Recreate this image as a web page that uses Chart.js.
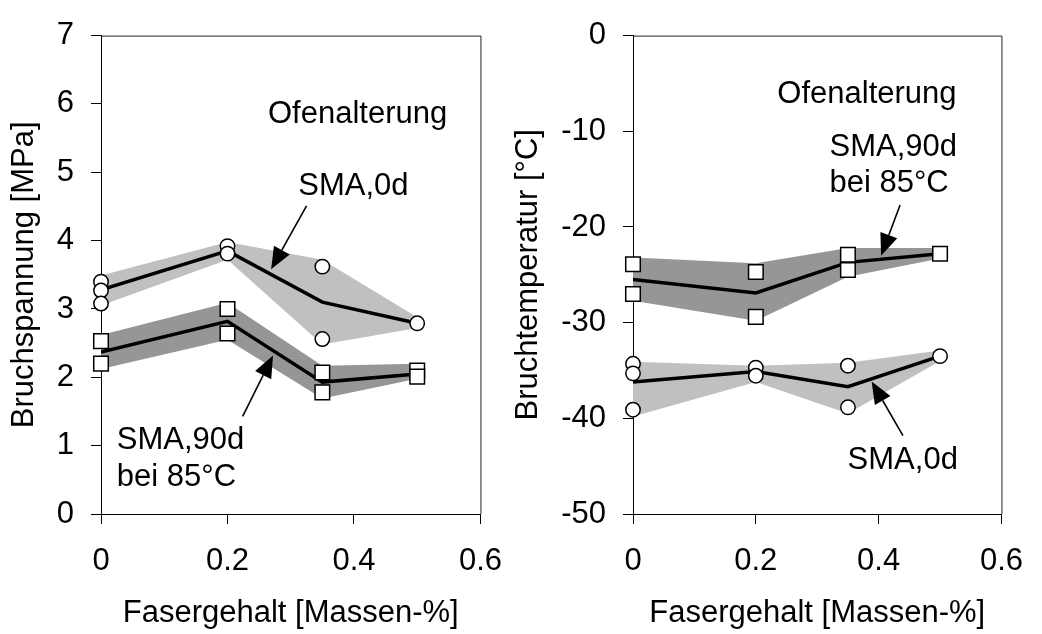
<!DOCTYPE html>
<html>
<head>
<meta charset="utf-8">
<script src="https://cdn.jsdelivr.net/npm/chart.js@4.4.1/dist/chart.umd.min.js"></script>
<style>
html,body{margin:0;padding:0;background:#fff;}
#wrap{position:relative;width:1042px;height:634px;overflow:hidden;}
#c1{position:absolute;left:0;top:0;}
#c2{position:absolute;left:500px;top:0;}
</style>
</head>
<body>
<div id="wrap">
  <canvas id="c1" width="521" height="634"></canvas>
  <canvas id="c2" width="542" height="634"></canvas>
</div>
<script>
const xMean = [0, 0.2, 0.35, 0.5];
const xTicks = [0, 0.2, 0.4, 0.6];

// Bruchspannung [MPa]
const spTicks = [0, 1, 2, 3, 4, 5, 6, 7];
const sp0dX = [0, 0, 0, 0.2, 0.2, 0.35, 0.35, 0.5];
const sp0dY = [3.40, 3.27, 3.08, 3.92, 3.81, 3.62, 2.56, 2.79];
const sp0dMean = [3.28, 3.85, 3.10, 2.79];
const sp0dHigh = [3.49, 3.98, 3.72, 2.88];
const sp0dLow = [3.05, 3.72, 2.48, 2.72];
const sp90dX = [0, 0, 0.2, 0.2, 0.35, 0.35, 0.5, 0.5];
const sp90dY = [2.53, 2.20, 3.00, 2.64, 2.07, 1.78, 2.10, 2.01];
const sp90dMean = [2.37, 2.82, 1.93, 2.05];
const sp90dHigh = [2.62, 3.09, 2.17, 2.20];
const sp90dLow = [2.12, 2.55, 1.69, 1.98];

// Bruchtemperatur [°C]
const tTicks = [-50, -40, -30, -20, -10, 0];
const t0dX = [0, 0, 0, 0.2, 0.2, 0.35, 0.35, 0.5];
const t0dY = [-34.3, -35.3, -39.1, -34.7, -35.55, -34.5, -38.85, -33.5];
const t0dMean = [-36.2, -35.1, -36.7, -33.5];
const t0dHigh = [-34.1, -34.5, -34.2, -32.9];
const t0dLow = [-39.8, -36.2, -39.5, -34.0];
const t90dX = [0, 0, 0.2, 0.2, 0.35, 0.35, 0.5];
const t90dY = [-23.9, -27.0, -24.7, -29.4, -22.9, -24.5, -22.8];
const t90dMean = [-25.5, -26.9, -23.7, -22.8];
const t90dHigh = [-23.2, -23.8, -22.2, -22.2];
const t90dLow = [-27.7, -29.8, -25.2, -23.3];

const FONT = '"Liberation Sans", Arial, sans-serif';
const LIGHT = '#c0c0c0';
const DARK = '#969696';

Chart.defaults.font.family = FONT;
Chart.defaults.font.size = 31;
Chart.defaults.color = '#000';

function pts(xs, ys){ return xs.map((x, i) => ({x: x, y: ys[i]})); }

// Rahmen, Beschriftungen und Pfeile
const decor = {
  id: 'decor',
  beforeDatasetsDraw(chart){
    const {ctx, chartArea: a} = chart;
    ctx.save();
    ctx.strokeStyle = '#222';
    ctx.lineWidth = 1;
    ctx.beginPath();
    ctx.moveTo(a.left, a.top + 0.5);
    ctx.lineTo(a.right + 0.5, a.top + 0.5);
    ctx.lineTo(a.right + 0.5, a.bottom);
    ctx.stroke();
    ctx.restore();
  },
  afterDatasetsDraw(chart, args, opts){
    const {ctx} = chart;
    const sx = chart.scales.x, sy = chart.scales.y;
    ctx.save();
    ctx.fillStyle = '#000';
    ctx.strokeStyle = '#000';
    ctx.font = '31px ' + FONT;
    ctx.textAlign = 'left';
    ctx.textBaseline = 'middle';
    for(const l of opts.labels){
      ctx.fillText(l.text, sx.getPixelForValue(l.x), sy.getPixelForValue(l.y));
    }
    for(const ar of opts.arrows){
      const x1 = sx.getPixelForValue(ar.from[0]), y1 = sy.getPixelForValue(ar.from[1]);
      const x2 = sx.getPixelForValue(ar.to[0]), y2 = sy.getPixelForValue(ar.to[1]);
      const ang = Math.atan2(y2 - y1, x2 - x1);
      const len = 22, half = 9;
      const bx = x2 - len * Math.cos(ang), by = y2 - len * Math.sin(ang);
      ctx.lineWidth = 1.6;
      ctx.beginPath(); ctx.moveTo(x1, y1); ctx.lineTo(bx, by); ctx.stroke();
      ctx.beginPath();
      ctx.moveTo(x2, y2);
      ctx.lineTo(bx + half * Math.sin(ang), by - half * Math.cos(ang));
      ctx.lineTo(bx - half * Math.sin(ang), by + half * Math.cos(ang));
      ctx.closePath(); ctx.fill();
    }
    ctx.restore();
  }
};

function markers(data, style, r){
  return {data: data, showLine: false, pointStyle: style, pointRadius: r,
    pointBackgroundColor: '#fff', pointBorderColor: '#000', pointBorderWidth: 1.5, clip: false};
}
function meanLine(ys){
  return {data: pts(xMean, ys), borderColor: '#000', borderWidth: 3.5, pointRadius: 0, tension: 0, fill: false};
}
function bandHigh(ys){
  return {data: pts(xMean, ys), borderWidth: 0, pointRadius: 0, tension: 0, fill: false};
}
function bandLow(ys, color){
  return {data: pts(xMean, ys), borderWidth: 0, pointRadius: 0, tension: 0, fill: '-1', backgroundColor: color};
}

function makeChart(id, o){
  return new Chart(document.getElementById(id), {
    type: 'line',
    data: {datasets: [
      markers(o.circles, 'circle', 7.2),
      markers(o.squares, 'rect', 10.3),
      meanLine(o.cMean),
      meanLine(o.sMean),
      bandHigh(o.cHigh), bandLow(o.cLow, LIGHT),
      bandHigh(o.sHigh), bandLow(o.sLow, DARK)
    ]},
    plugins: [decor],
    options: {
      responsive: false,
      animation: false,
      layout: {padding: {top: o.padTop, right: o.padRight, bottom: 0, left: 0}},
      plugins: {
        legend: {display: false},
        tooltip: {enabled: false},
        decor: {labels: o.labels, arrows: o.arrows}
      },
      scales: {
        x: {
          type: 'linear', min: 0, max: 0.6,
          afterBuildTicks: s => { s.ticks = xTicks.map(v => ({value: v})); },
          afterFit: s => { s.height = 120; },
          ticks: {padding: 19, callback: v => String(v)},
          grid: {drawOnChartArea: false, drawTicks: true, tickLength: 10, color: '#000'},
          border: {color: '#000', width: 1},
          title: {display: true, text: 'Fasergehalt [Massen-%]', padding: {top: 0, bottom: 2}}
        },
        y: {
          type: 'linear', min: o.yTicks[0], max: o.yTicks[o.yTicks.length - 1],
          afterBuildTicks: s => { s.ticks = o.yTicks.map(v => ({value: v})); },
          afterFit: s => { s.width = o.yWidth; },
          ticks: {padding: 17, callback: v => String(v)},
          grid: {drawOnChartArea: false, drawTicks: true, tickLength: 10, color: '#000'},
          border: {color: '#000', width: 1},
          title: {display: true, text: o.yTitle, padding: {top: o.yTitlePad, bottom: 0}}
        }
      }
    }
  });
}

makeChart('c1', {
  circles: pts(sp0dX, sp0dY), squares: pts(sp90dX, sp90dY),
  cMean: sp0dMean, cHigh: sp0dHigh, cLow: sp0dLow,
  sMean: sp90dMean, sHigh: sp90dHigh, sLow: sp90dLow,
  yTicks: spTicks, yTitle: 'Bruchspannung [MPa]', yWidth: 101, yTitlePad: 6,
  padTop: 24, padRight: 40,
  labels: [
    {text: 'Ofenalterung', x: 0.264, y: 5.84},
    {text: 'SMA,0d', x: 0.312, y: 4.80},
    {text: 'SMA,90d', x: 0.025, y: 1.07},
    {text: 'bei 85°C', x: 0.025, y: 0.54}
  ],
  arrows: [
    {from: [0.325, 4.51], to: [0.269, 3.58]},
    {from: [0.224, 1.43], to: [0.272, 2.32]}
  ]
});

makeChart('c2', {
  circles: pts(t0dX, t0dY), squares: pts(t90dX, t90dY),
  cMean: t0dMean, cHigh: t0dHigh, cLow: t0dLow,
  sMean: t90dMean, sHigh: t90dHigh, sLow: t90dLow,
  yTicks: tTicks, yTitle: 'Bruchtemperatur [°C]', yWidth: 133, yTitlePad: 10,
  padTop: 25, padRight: 25,
  labels: [
    {text: 'Ofenalterung', x: 0.235, y: -6.1},
    {text: 'SMA,90d', x: 0.320, y: -11.7},
    {text: 'bei 85°C', x: 0.320, y: -15.5},
    {text: 'SMA,0d', x: 0.3495, y: -44.4}
  ],
  arrows: [
    {from: [0.435, -17.7], to: [0.404, -23.0]},
    {from: [0.4396, -41.8], to: [0.3886, -36.15]}
  ]
});
</script>
</body>
</html>
